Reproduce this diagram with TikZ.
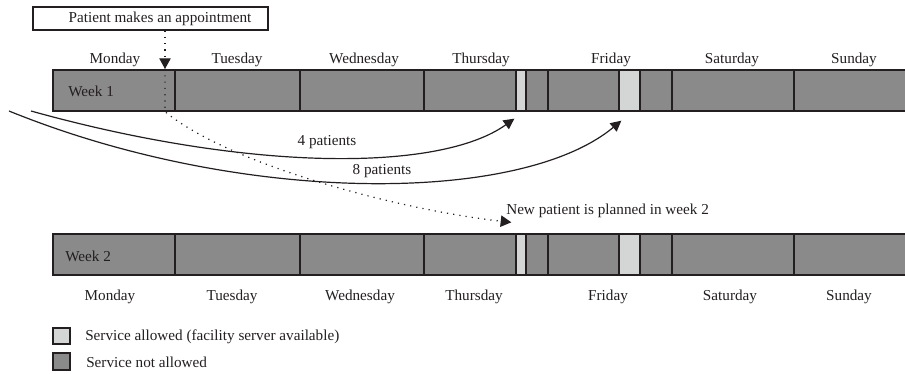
\documentclass[tikz,border=0pt]{standalone}
\usepackage{fontspec}
\setmainfont{Liberation Serif}
\usetikzlibrary{positioning, fit, arrows.meta}
\definecolor{slotdark}{HTML}{8A8A8B}
\definecolor{slotlight}{HTML}{D4D5D5}
\definecolor{ink}{HTML}{231F20}

\begin{document}
\begin{tikzpicture}[x=0.75pt, y=-0.75pt, font=\fontsize{11.4}{13}\selectfont, text=ink,
  cell/.style={draw=ink, line width=1pt, inner sep=0pt},
  busycell/.style={cell, fill=slotdark},
  freecell/.style={cell, fill=slotlight},
  dotline/.style={draw=ink, dash pattern=on 0.9pt off 3.8pt, line width=0.9pt},
  dotarrow/.style={-{Triangle[length=8pt,width=8.5pt]}},
  flow/.style={draw=ink, line width=0.9pt, -{Triangle[length=8pt,width=8pt]}}]
  \useasboundingbox (0,0) rectangle (905,374);

  % the two weeks, cell by cell
  \foreach \wk/\top in {1/70, 2/234} {
    \foreach \a/\b/\kind/\nm in {53/175/busycell/mon, 175/300/busycell/tue, 300/424/busycell/wed,
        424/516/busycell/thu, 516/526/freecell/thuA, 526/548/busycell/thuB,
        548/619/busycell/fri, 619/640/freecell/friA, 640/672/busycell/friB,
        672/794/busycell/sat, 794/918/busycell/sun}
      \node[\kind, fit={(\a,\top) (\b,\top+41)}] (w\wk-\nm) {};
  }
  \node[anchor=west, inner sep=0pt] (wk1) at (68,91) {Week 1};
  \node[anchor=west, inner sep=0pt] (wk2) at (65,256) {Week 2};

  % day names above week 1 and below week 2
  \foreach \d/\x/\xx in {Monday/115/110, Tuesday/237/232, Wednesday/364/360, Thursday/481/474,
      Friday/611/608, Saturday/732/730, Sunday/854/849} {
    \node[inner sep=0pt] (top-\d) at (\x,60) {\d};
    \node[inner sep=0pt] (bot-\d) at (\xx,297) {\d};
  }

  \node[draw=ink, line width=0.8pt, inner sep=0pt, fit={(33,7) (268,30)}] (appt) {};
  \node[inner sep=0pt] (appttxt) at (160,18.5) {Patient makes an appointment};

  \coordinate (drop) at (165,69);
  \coordinate (src4) at (31,111);
  \coordinate (src8) at (9,111);

  \draw[dotline, dotarrow] (appt.south -| drop) -- (drop);
  \draw[dotline, dotarrow] (drop) -- (drop |- w1-mon.south)
    .. controls (230,165) and (400,210) .. ([xshift=-3pt,yshift=8.25pt]w2-thuA.north west);

  \draw[flow] (src4) .. controls (250,172) and (440,172) .. ([xshift=-0.75pt,yshift=-5.25pt]w1-thuA.south west);
  \draw[flow] (src8) .. controls (240,205) and (520,205) .. ([xshift=2.25pt,yshift=-6.75pt]w1-friA.south west);

  \node[inner sep=0pt] (lbl4) at (327,142) {4 patients};
  \node[inner sep=0pt] (lbl8) at (382,171) {8 patients};
  \node[anchor=west, inner sep=0pt] (planned) at (506,211) {New patient is planned in week 2};

  % legend
  \node[freecell, fit={(53,328) (70,344)}] (keyfree) {};
  \node[busycell, fit={(53,353) (70,370)}] (keybusy) {};
  \node[anchor=west, inner sep=0pt] (txtfree) at (85,337) {Service allowed (facility server available)};
  \node[anchor=west, inner sep=0pt] (txtbusy) at (86,362) {Service not allowed};
\end{tikzpicture}
\end{document}
